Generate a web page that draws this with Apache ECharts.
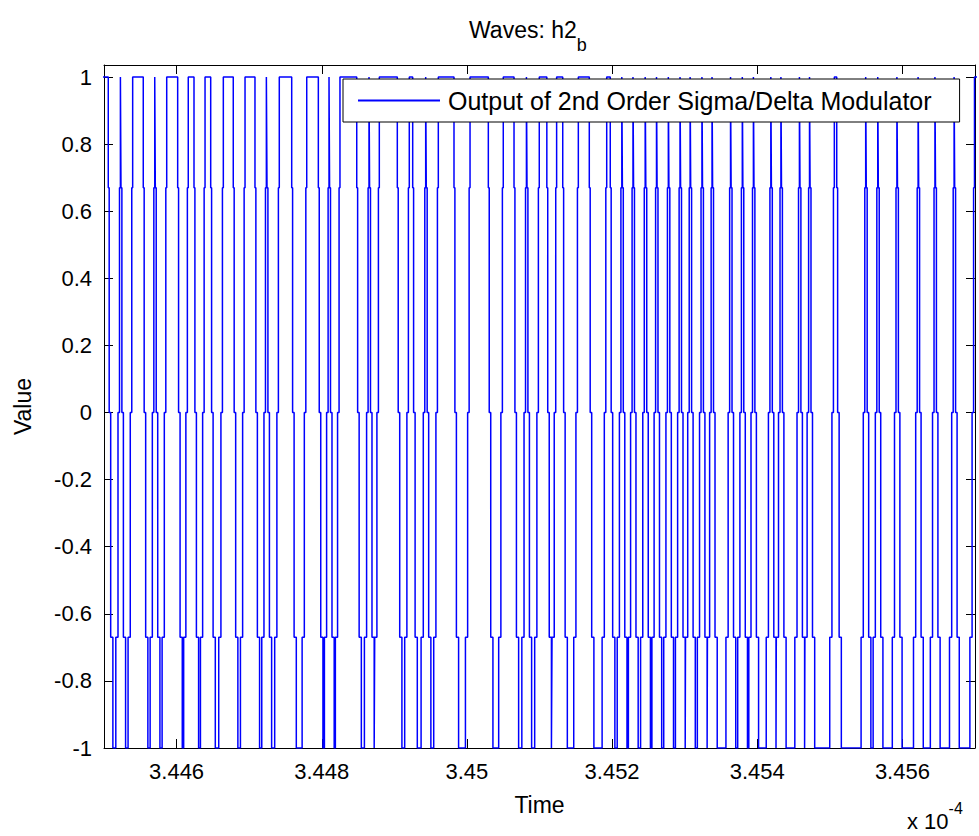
<!DOCTYPE html>
<html>
<head>
<meta charset="utf-8">
<script src="https://cdn.jsdelivr.net/npm/echarts@6/dist/echarts.min.js"></script>
<style>html,body{margin:0;padding:0;background:#fff}#c{width:979px;height:836px}</style>
</head>
<body>
<div id="c"></div>
<script>
// Times in units of 1e-4 s at which the modulator output reaches +1 (topStart) and leaves +1 (topEnd)
const topStart = [3.444900, 3.445226, 3.445395, 3.445699, 3.445864, 3.446161, 3.446392, 3.446644, 3.446943, 3.447237,
  3.447415, 3.447793, 3.448100, 3.448251, 3.448651, 3.448793, 3.449206, 3.449432, 3.449606, 3.450043,
  3.450501, 3.450820, 3.450997, 3.451236, 3.451535, 3.451926, 3.452134, 3.452288, 3.452456, 3.452612,
  3.452775, 3.452936, 3.453075, 3.453238, 3.453377, 3.453632, 3.453794, 3.453947, 3.454187, 3.454326,
  3.454581, 3.454720, 3.455062, 3.455494, 3.455660, 3.455924, 3.456216, 3.456448, 3.456712, 3.456993];
const topEnd = [3.445059, 3.445234, 3.445541, 3.445707, 3.446015, 3.446240, 3.446470, 3.446781, 3.447080, 3.447246,
  3.447586, 3.447953, 3.448108, 3.448482, 3.448659, 3.449041, 3.449253, 3.449440, 3.449822, 3.450295,
  3.450649, 3.450828, 3.451101, 3.451320, 3.451686, 3.451975, 3.452142, 3.452296, 3.452465, 3.452620,
  3.452783, 3.452944, 3.453083, 3.453246, 3.453385, 3.453640, 3.453802, 3.453955, 3.454195, 3.454334,
  3.454589, 3.454728, 3.455095, 3.455502, 3.455668, 3.455932, 3.456224, 3.456456, 3.456720, 3.457100];
// intermediate levels passed during each swing and the time spent on each (1e-4 s)
const stepLevels = [0.67, 0, -0.67];
const stepDwell = [0.0000124, 0.0000207, 0.0000303];
const xTicks = [3.446, 3.448, 3.45, 3.452, 3.454, 3.456];
const yTicks = [-1, -0.8, -0.6, -0.4, -0.2, 0, 0.2, 0.4, 0.6, 0.8, 1];
const seriesName = 'Output of 2nd Order Sigma/Delta Modulator';

const A = stepDwell[0], AB = stepDwell[0] + stepDwell[1], D = stepDwell[0] + stepDwell[1] + stepDwell[2];
function fallLvl(t, tf) {
  if (t < tf) return 1;
  if (t < tf + A) return stepLevels[0];
  if (t < tf + AB) return stepLevels[1];
  if (t < tf + D) return stepLevels[2];
  return -1;
}
function riseLvl(t, tr) {
  if (t >= tr) return 1;
  if (t >= tr - A) return stepLevels[0];
  if (t >= tr - AB) return stepLevels[1];
  if (t >= tr - D) return stepLevels[2];
  return -1;
}
function levelAt(t) {
  let i = -1;
  for (let k = 0; k < topStart.length; k++) { if (topStart[k] <= t) i = k; else break; }
  if (i < 0) return 1;
  if (t < topEnd[i]) return 1;
  const f = fallLvl(t, topEnd[i]);
  const r = (i + 1 < topStart.length) ? riseLvl(t, topStart[i + 1]) : -1;
  return Math.max(f, r);
}
let bps = [];
for (let k = 0; k < topStart.length; k++) {
  bps.push(topStart[k] - D, topStart[k] - AB, topStart[k] - A, topStart[k]);
  bps.push(topEnd[k], topEnd[k] + A, topEnd[k] + AB, topEnd[k] + D);
}
bps.sort((a, b) => a - b);
const pts = [];
let prev = 1;
pts.push([bps[0], 1]);
for (const t of bps) {
  const L = levelAt(t);
  if (L !== prev) { pts.push([t, prev]); pts.push([t, L]); prev = L; }
}
pts.push([bps[bps.length - 1], prev]);

const FF = "'Liberation Sans', Arial, Helvetica, sans-serif";
const black = '#000';
function axisCommon(extra) {
  return Object.assign({
    type: 'value',
    axisLine: { show: true, onZero: false, lineStyle: { color: black, width: 1 } },
    splitLine: { show: false },
    axisTick: { show: true, inside: true, length: 9, lineStyle: { color: black, width: 1 } },
  }, extra);
}
const chart = echarts.init(document.getElementById('c'), null, { renderer: 'svg' });
chart.setOption({
  animation: false,
  backgroundColor: '#fff',
  title: {
    text: '{m|Waves: h2}{s|b}',
    left: 464, top: 13,
    textStyle: {
      fontFamily: FF, fontWeight: 'normal', color: black,
      rich: {
        m: { fontFamily: FF, fontSize: 23, color: black, lineHeight: 26, verticalAlign: 'top' },
        s: { fontFamily: FF, fontSize: 18, color: black, lineHeight: 36, verticalAlign: 'bottom' }
      }
    }
  },
  grid: { left: 104, right: 4, top: 65, bottom: 88 },
  xAxis: [
    axisCommon({
      min: 3.445, max: 3.457, position: 'bottom',
      axisTick: { show: true, inside: true, length: 9, customValues: xTicks, lineStyle: { color: black } },
      axisLabel: { customValues: xTicks, fontFamily: FF, fontSize: 22, color: black, margin: 12 },
      name: 'Time', nameLocation: 'middle', nameGap: 45,
      nameTextStyle: { fontFamily: FF, fontSize: 23, color: black }
    }),
    axisCommon({
      min: 3.445, max: 3.457, position: 'top',
      axisTick: { show: true, inside: true, length: 9, customValues: xTicks, lineStyle: { color: black } },
      axisLabel: { show: false }
    })
  ],
  yAxis: [
    axisCommon({
      min: -1, max: 1.036, position: 'left',
      axisTick: { show: true, inside: true, length: 9, customValues: yTicks, lineStyle: { color: black } },
      axisLabel: { customValues: yTicks, fontFamily: FF, fontSize: 22, color: black, margin: 12 },
      name: 'Value', nameLocation: 'middle', nameGap: 70, nameRotate: 90,
      nameTextStyle: { fontFamily: FF, fontSize: 23, color: black }
    }),
    axisCommon({
      min: -1, max: 1.036, position: 'right',
      axisTick: { show: true, inside: true, length: 9, customValues: yTicks, lineStyle: { color: black } },
      axisLabel: { show: false }
    })
  ],
  legend: {
    left: 343, top: 79,
    padding: [9, 28, 9, 15],
    backgroundColor: '#fff', borderColor: black, borderWidth: 1, borderRadius: 0,
    itemWidth: 82, itemHeight: 2,
    selectedMode: false,
    textStyle: { fontFamily: FF, fontSize: 25, color: black, padding: [0, 0, 0, 3] },
    data: [{ name: seriesName, icon: 'rect', itemStyle: { color: '#0000ff' } }]
  },
  series: [{
    name: seriesName,
    type: 'line',
    data: pts,
    symbol: 'none', showSymbol: false,
    clip: true,
    lineStyle: { color: '#0000ff', width: 1.5 },
    itemStyle: { color: '#0000ff' },
    xAxisIndex: 0, yAxisIndex: 0
  }],
  graphic: [{
    type: 'text', left: 907, top: 800,
    style: {
      text: '{m|x 10}{p|-4}',
      fill: black,
      rich: {
        m: { fontFamily: FF, fontSize: 22, fill: black, lineHeight: 32, verticalAlign: 'bottom' },
        p: { fontFamily: FF, fontSize: 16, fill: black, lineHeight: 16, verticalAlign: 'top' }
      }
    }
  }]
});
</script>
</body>
</html>
